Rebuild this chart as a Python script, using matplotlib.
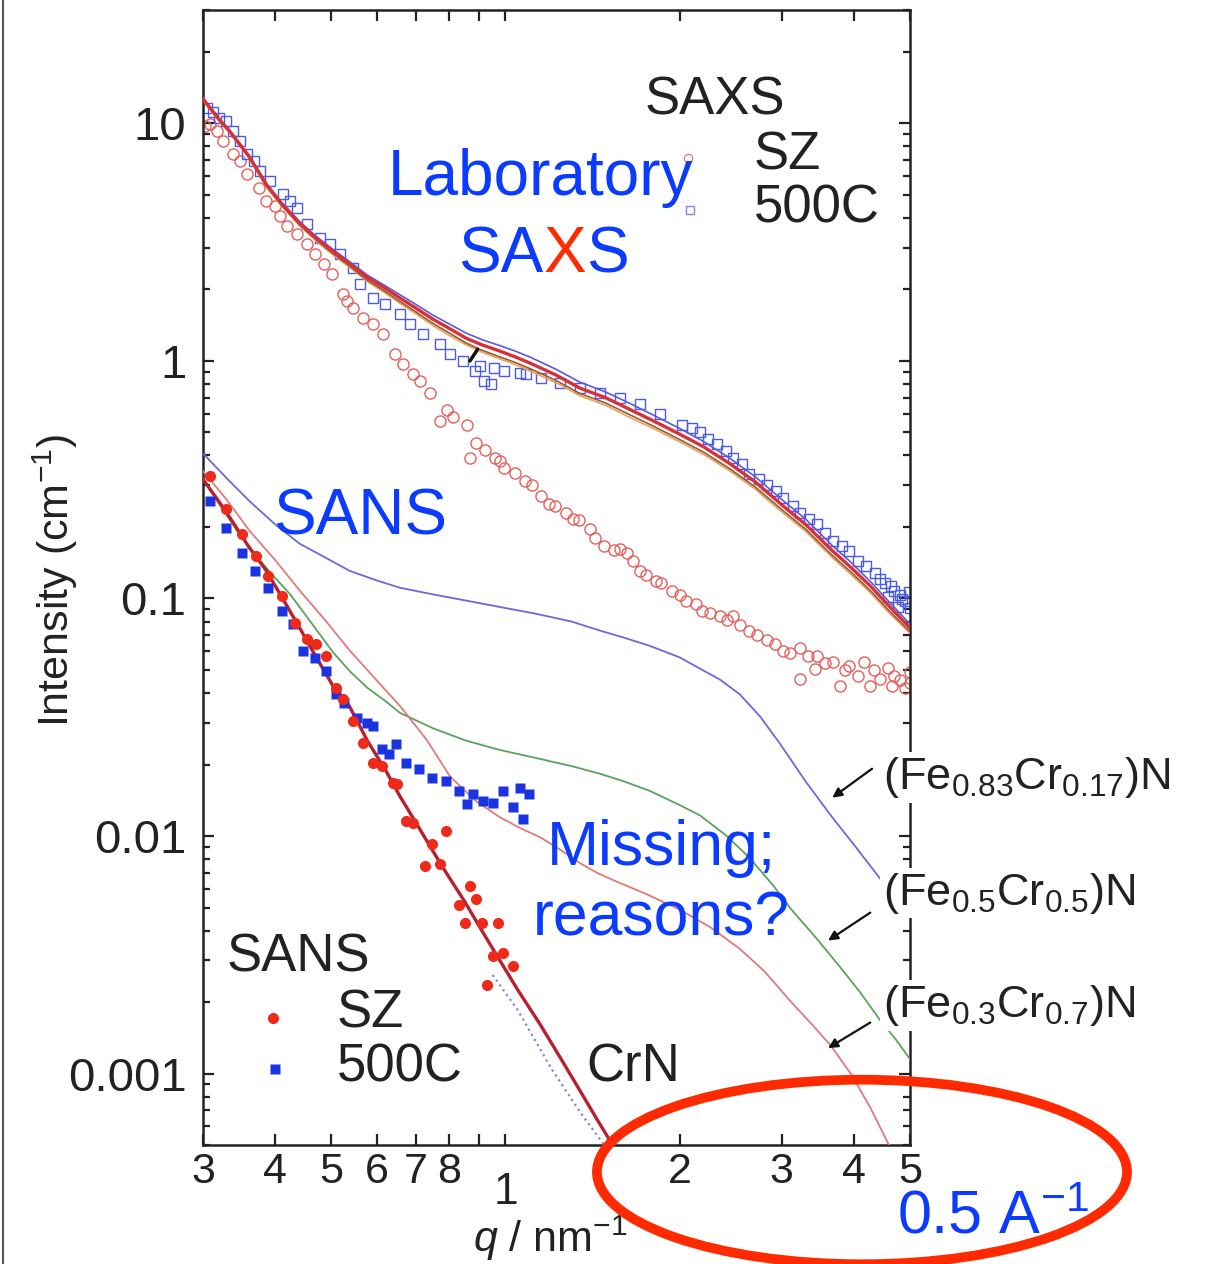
import matplotlib
matplotlib.use('Agg')
import matplotlib.pyplot as plt
import matplotlib.ticker as mtick
import matplotlib.transforms as mtrans
from matplotlib.patches import Ellipse
from matplotlib.lines import Line2D

plt.rcParams['font.family'] = ['Liberation Sans', 'DejaVu Sans']
plt.rcParams['mathtext.fontset'] = 'custom'
plt.rcParams['mathtext.rm'] = 'Liberation Sans'
plt.rcParams['mathtext.it'] = 'Liberation Sans:italic'
plt.rcParams['mathtext.bf'] = 'Liberation Sans:bold'

# --- laboratory SAXS, as-quenched (SZ), open circles
saxs_sz_q = [0.302, 0.308, 0.317, 0.325, 0.338, 0.348, 0.358, 0.375, 0.386, 0.399,
             0.407, 0.419, 0.436, 0.454, 0.468, 0.486, 0.501, 0.524, 0.532, 0.545,
             0.567, 0.590, 0.614, 0.645, 0.665, 0.692, 0.712, 0.741, 0.771, 0.791,
             0.813, 0.858, 0.868, 0.890, 0.923, 0.960, 0.978, 0.995, 1.04, 1.08,
             1.11, 1.15, 1.19, 1.22, 1.27, 1.31, 1.34, 1.40, 1.43, 1.48,
             1.54, 1.58, 1.62, 1.66, 1.71, 1.75, 1.82, 1.86, 1.94, 2.00,
             2.05, 2.13, 2.19, 2.26, 2.35, 2.41, 2.47, 2.54, 2.64, 2.72,
             2.83, 2.92, 3.02, 3.10, 3.23, 3.23, 3.33, 3.42, 3.45, 3.56,
             3.68, 3.79, 3.86, 3.93, 4.07, 4.17, 4.27, 4.33, 4.44, 4.59,
             4.66, 4.70, 4.81, 4.90, 5.00, 5.00]
saxs_sz_I = [9.71, 9.90, 9.25, 8.40, 7.41, 6.92, 6.10, 5.33, 4.70, 4.48,
             4.07, 3.69, 3.41, 3.10, 2.81, 2.55, 2.32, 1.91, 1.78, 1.67,
             1.52, 1.43, 1.30, 1.07, 0.97, 0.88, 0.82, 0.73, 0.56, 0.62,
             0.58, 0.54, 0.39, 0.45, 0.42, 0.39, 0.38, 0.355, 0.336, 0.313,
             0.300, 0.270, 0.250, 0.245, 0.228, 0.216, 0.213, 0.197, 0.180, 0.167,
             0.160, 0.162, 0.155, 0.144, 0.131, 0.125, 0.119, 0.116, 0.108, 0.103,
             0.098, 0.095, 0.089, 0.087, 0.084, 0.081, 0.084, 0.077, 0.073, 0.070,
             0.0666, 0.0645, 0.0604, 0.059, 0.062, 0.046, 0.0573, 0.0507, 0.057, 0.0535,
             0.054, 0.043, 0.0498, 0.052, 0.0474, 0.054, 0.0429, 0.050, 0.046, 0.051,
             0.043, 0.0474, 0.0452, 0.042, 0.049, 0.044]

# --- laboratory SAXS, aged 500C, open squares
saxs_500c_q = [0.305, 0.312, 0.320, 0.329, 0.338, 0.348, 0.358, 0.367, 0.377, 0.392,
               0.412, 0.424, 0.436, 0.454, 0.478, 0.497, 0.517, 0.545, 0.561, 0.590,
               0.620, 0.657, 0.684, 0.721, 0.771, 0.802, 0.844, 0.885, 0.903, 0.919,
               0.945, 0.957, 0.995, 1.058, 1.085, 1.15, 1.24, 1.344, 1.455, 1.576,
               1.707, 1.849, 2.02, 2.10, 2.17, 2.24, 2.32, 2.40, 2.47, 2.56,
               2.64, 2.74, 2.83, 2.93, 3.02, 3.14, 3.23, 3.34, 3.45, 3.57,
               3.68, 3.82, 3.93, 4.07, 4.20, 4.35, 4.44, 4.52, 4.58, 4.63,
               4.70, 4.76, 4.81, 4.85, 4.90, 4.98, 5.00]
saxs_500c_I = [11.6, 11.2, 10.5, 10.2, 9.25, 8.40, 7.41, 6.92, 6.28, 5.70,
               5.03, 4.70, 4.39, 3.76, 3.28, 3.10, 2.81, 2.46, 2.10, 1.84,
               1.74, 1.57, 1.43, 1.30, 1.18, 1.07, 1.00, 0.908, 0.95, 0.824,
               0.80, 0.93, 0.908, 0.89, 0.88, 0.85, 0.81, 0.77, 0.735, 0.70,
               0.66, 0.60, 0.54, 0.522, 0.50, 0.469, 0.445, 0.418, 0.39, 0.368,
               0.335, 0.318, 0.30, 0.284, 0.265, 0.245, 0.229, 0.216, 0.205, 0.189,
               0.174, 0.166, 0.159, 0.144, 0.137, 0.128, 0.121, 0.116, 0.1016, 0.113,
               0.108, 0.092, 0.103, 0.0996, 0.098, 0.106, 0.091]

# --- SAXS model curves
saxs_fit_q = [0.300, 0.320, 0.334, 0.360, 0.386, 0.410, 0.441, 0.470, 0.503, 0.540,
              0.577, 0.620, 0.657, 0.700, 0.749, 0.800, 0.855, 0.910, 0.978, 1.04,
              1.101, 1.22, 1.344, 1.49, 1.636, 1.80, 2.00, 2.20, 2.44, 2.70,
              3.02, 3.30, 3.68, 3.93, 4.27, 4.60, 5.00]
saxs_fit_red = [12.7, 10.4, 9.25, 7.30, 5.54, 4.60, 3.80, 3.30, 2.90, 2.55,
                2.25, 2.02, 1.84, 1.67, 1.50, 1.37, 1.247, 1.17, 1.10, 1.04,
                0.981, 0.875, 0.769, 0.700, 0.627, 0.560, 0.492, 0.435, 0.370, 0.310,
                0.245, 0.205, 0.158, 0.137, 0.113, 0.093, 0.0752]
saxs_fit_blue = [12.8, 10.5, 9.30, 7.36, 5.60, 4.66, 3.86, 3.36, 2.95, 2.60,
                 2.30, 2.07, 1.90, 1.73, 1.56, 1.43, 1.31, 1.23, 1.16, 1.10,
                 1.04, 0.925, 0.815, 0.740, 0.665, 0.592, 0.520, 0.458, 0.390, 0.326,
                 0.258, 0.216, 0.166, 0.144, 0.118, 0.097, 0.078]
saxs_fit_brown = [12.6, 10.3, 9.15, 7.22, 5.45, 4.54, 3.74, 3.25, 2.84, 2.49,
                  2.19, 1.96, 1.78, 1.61, 1.44, 1.31, 1.19, 1.11, 1.04, 0.985,
                  0.930, 0.830, 0.730, 0.665, 0.595, 0.532, 0.467, 0.413, 0.352, 0.295,
                  0.234, 0.196, 0.151, 0.131, 0.108, 0.089, 0.0725]
saxs_fit_orange = [12.5, 10.2, 9.10, 7.18, 5.40, 4.50, 3.70, 3.21, 2.80, 2.46,
                   2.16, 1.93, 1.75, 1.58, 1.41, 1.28, 1.17, 1.09, 1.02, 0.965,
                   0.910, 0.812, 0.715, 0.650, 0.580, 0.520, 0.457, 0.404, 0.345, 0.289,
                   0.229, 0.192, 0.148, 0.128, 0.106, 0.087, 0.0715]

# --- SANS data
sans_sz_q = [0.308, 0.329, 0.350, 0.371, 0.388, 0.411, 0.433, 0.454, 0.471, 0.490,
             0.509, 0.524, 0.545, 0.567, 0.590, 0.611, 0.639, 0.650, 0.672, 0.692,
             0.726, 0.747, 0.770, 0.790, 0.830, 0.850, 0.868, 0.890, 0.910, 0.930,
             0.950, 0.970, 0.990, 1.03]
sans_sz_I = [0.328, 0.238, 0.187, 0.151, 0.1245, 0.1026, 0.0789, 0.0676, 0.0644, 0.0574,
             0.0421, 0.0379, 0.0306, 0.0247, 0.0202, 0.0198, 0.0168, 0.0166, 0.0116, 0.0113,
             0.0075, 0.0093, 0.0076, 0.01055, 0.0051, 0.00432, 0.00618, 0.00545, 0.0043, 0.00235,
             0.00314, 0.0043, 0.00322, 0.00285]

sans_500c_q = [0.308, 0.329, 0.350, 0.369, 0.388, 0.411, 0.429, 0.447, 0.468, 0.490,
               0.509, 0.526, 0.553, 0.576, 0.590, 0.611, 0.630, 0.648, 0.672, 0.708,
               0.745, 0.790, 0.830, 0.858, 0.880, 0.914, 0.951, 0.990, 1.03, 1.06,
               1.07, 1.10]
sans_500c_I = [0.258, 0.198, 0.156, 0.1307, 0.111, 0.0888, 0.0782, 0.0602, 0.0563, 0.0496,
               0.0397, 0.0364, 0.0315, 0.0300, 0.0291, 0.0233, 0.0222, 0.0245, 0.0202, 0.0192,
               0.0176, 0.0171, 0.0155, 0.0137, 0.0151, 0.0141, 0.0138, 0.0155, 0.0132, 0.0160,
               0.0118, 0.0151]

# --- SANS model curves
fe083_q = [0.301, 0.330, 0.361, 0.400, 0.441, 0.490, 0.538, 0.600, 0.657, 0.750,
           0.855, 0.980, 1.12, 1.30, 1.455, 1.60, 1.775, 2.00, 2.17, 2.35,
           2.54, 2.75, 2.98, 3.30, 3.65, 4.00, 4.44, 5.00]
fe083_I = [0.405, 0.320, 0.257, 0.205, 0.170, 0.148, 0.1307, 0.119, 0.111, 0.104,
           0.098, 0.092, 0.0866, 0.0800, 0.0733, 0.0685, 0.0632, 0.0565, 0.0506, 0.0455,
           0.0395, 0.0320, 0.0245, 0.0170, 0.0122, 0.0092, 0.00662, 0.00476]
fe05_q = [0.300, 0.320, 0.345, 0.377, 0.400, 0.424, 0.460, 0.503, 0.540, 0.577,
          0.620, 0.657, 0.750, 0.855, 0.980, 1.12, 1.30, 1.455, 1.60, 1.775,
          2.00, 2.17, 2.40, 2.64, 2.90, 3.12, 3.45, 3.79, 4.10, 4.44,
          4.75, 5.00]
fe05_I = [0.318, 0.250, 0.190, 0.144, 0.122, 0.1045, 0.080, 0.0595, 0.049, 0.0421,
          0.037, 0.0330, 0.0284, 0.0252, 0.0230, 0.0214, 0.0197, 0.0183, 0.0170, 0.0155,
          0.0135, 0.0122, 0.0101, 0.0081, 0.0062, 0.0049, 0.0037, 0.0028, 0.0022, 0.00168,
          0.00137, 0.00115]
fe03_q = [0.300, 0.330, 0.361, 0.400, 0.441, 0.490, 0.538, 0.600, 0.657, 0.730,
          0.802, 0.890, 0.978, 1.06, 1.146, 1.24, 1.344, 1.44, 1.54, 1.75,
          2.00, 2.27, 2.54, 2.80, 3.10, 3.37, 3.65, 3.95, 4.27, 4.60]
fe03_I = [0.344, 0.260, 0.193, 0.145, 0.108, 0.080, 0.0604, 0.045, 0.0353, 0.0255,
          0.0178, 0.0140, 0.0120, 0.0108, 0.0099, 0.0088, 0.0077, 0.0070, 0.0065, 0.0057,
          0.0049, 0.0041, 0.00335, 0.0027, 0.00203, 0.00163, 0.00131, 0.00100, 0.00072, 0.00050]
crn_q = [0.300, 0.320, 0.337, 0.360, 0.386, 0.410, 0.441, 0.470, 0.503, 0.538,
         0.577, 0.620, 0.657, 0.703, 0.750, 0.790, 0.850, 0.910, 0.978, 1.05,
         1.146, 1.24, 1.344, 1.44, 1.54]
crn_I = [0.318, 0.255, 0.212, 0.165, 0.131, 0.102, 0.0751, 0.057, 0.043, 0.035,
         0.0252, 0.0190, 0.0147, 0.0112, 0.0086, 0.0070, 0.0053, 0.0040, 0.00299, 0.00225,
         0.00162, 0.00118, 0.00085, 0.00064, 0.00049]
crn_alt_q = [0.95, 1.05, 1.20, 1.35, 1.50]
crn_alt_I = [0.0026, 0.00185, 0.00105, 0.00068, 0.00048]

x_ticks = [0.3, 0.4, 0.5, 0.6, 0.7, 0.8, 0.9, 1, 2, 3, 4, 5]
x_ticklabels = ['3', '4', '5', '6', '7', '8', '', '', '2', '3', '4', '5']
y_ticks = [1e-3, 1e-2, 1e-1, 1, 10]
y_ticklabels = ['0.001', '0.01', '0.1', '1', '10']

blue_txt = '#0b3bff'
red_txt = '#ff2a00'
ink = '#222222'

fig = plt.figure(figsize=(12.27, 12.64), dpi=100)
ax = fig.add_axes([0.1654, 0.0941, 0.5762, 0.8979])
ax.set_xscale('log')
ax.set_yscale('log')
ax.set_xlim(0.3, 5)
ax.set_ylim(5e-4, 30)

# SAXS
ax.plot(saxs_sz_q, saxs_sz_I, 'o', mfc='none', mec='#e4605c', ms=8, mew=1.0, zorder=2)
ax.plot(saxs_500c_q, saxs_500c_I, 's', mfc='none', mec='#4a5be6', ms=7.5, mew=1.0, zorder=2)
ax.plot(saxs_fit_q, saxs_fit_orange, color='#e8a25a', lw=1.2, zorder=3)
ax.plot(saxs_fit_q, saxs_fit_brown, color='#9a5a30', lw=1.2, zorder=3)
ax.plot(saxs_fit_q, saxs_fit_blue, color='#5a5ad8', lw=1.2, zorder=3)
ax.plot(saxs_fit_q, saxs_fit_red, color='#d8303a', lw=2.4, zorder=3)

# SANS
ax.plot(fe083_q, fe083_I, color='#6a6ad8', lw=1.3, zorder=3)
ax.plot(fe05_q, fe05_I, color='#5aa45a', lw=1.3, zorder=3)
ax.plot(fe03_q, fe03_I, color='#e07a7a', lw=1.3, zorder=3)
ax.plot(crn_alt_q, crn_alt_I, ':', color='#7a8ad8', lw=1.6, zorder=3)
ax.plot(crn_q, crn_I, color='#b82030', lw=2.4, zorder=3)
ax.plot(sans_500c_q, sans_500c_I, 's', color='#1a35e0', mec='none', ms=7.5, zorder=4)
ax.plot(sans_sz_q, sans_sz_I, 'o', color='#ee2a1a', mec='none', ms=8, zorder=4)

# axes and ticks
ax.xaxis.set_major_locator(mtick.FixedLocator(x_ticks))
ax.xaxis.set_major_formatter(mtick.FixedFormatter(x_ticklabels))
ax.xaxis.set_minor_locator(mtick.NullLocator())
ax.yaxis.set_major_locator(mtick.FixedLocator(y_ticks))
ax.yaxis.set_major_formatter(mtick.FixedFormatter(y_ticklabels))
ax.yaxis.set_minor_locator(mtick.LogLocator(base=10, subs=(2, 3, 4, 5, 6, 7, 8, 9), numticks=20))
ax.yaxis.set_minor_formatter(mtick.NullFormatter())
ax.tick_params(which='both', direction='in', top=True, right=True, width=1.6, colors=ink)
ax.tick_params(which='major', length=8)
ax.tick_params(which='minor', length=5)
ax.tick_params(axis='y', which='major', labelsize=34, pad=12)
ax.tick_params(axis='x', which='major', labelsize=31, pad=5)
for sp in ax.spines.values():
    sp.set_linewidth(1.8)
    sp.set_color(ink)

trans = mtrans.blended_transform_factory(ax.transData, ax.transAxes)
ax.text(1.0, -0.042, '1', transform=trans, ha='center', va='center', fontsize=32, color=ink)
ax.text(0.382, -0.0825, r'$q$ / nm$^{-1}$', transform=ax.transAxes, ha='left', va='center',
        fontsize=31, color=ink)
fig.text(0.045, 0.541, r'Intensity (cm$^{-1}$)', rotation=90, ha='center', va='center',
         fontsize=31, color=ink)

# legends
ax.text(0.724, 0.920, 'SAXS', transform=ax.transAxes, ha='center', va='center', fontsize=38, color=ink)
ax.plot([0.686], [0.870], 'o', transform=ax.transAxes, mfc='none', mec='#e88080', ms=6, mew=1.0, clip_on=False)
ax.plot([0.689], [0.824], 's', transform=ax.transAxes, mfc='none', mec='#7f88e0', ms=6, mew=1.0, clip_on=False)
ax.text(0.779, 0.872, 'SZ', transform=ax.transAxes, ha='left', va='center', fontsize=38, color=ink)
ax.text(0.779, 0.825, '500C', transform=ax.transAxes, ha='left', va='center', fontsize=38, color=ink)

ax.text(0.033, 0.165, 'SANS', transform=ax.transAxes, ha='left', va='center', fontsize=38, color=ink)
ax.plot([0.099], [0.112], 'o', transform=ax.transAxes, color='#ee2a1a', mec='none', ms=8)
ax.plot([0.102], [0.067], 's', transform=ax.transAxes, color='#1a35e0', mec='none', ms=7.5)
ax.text(0.189, 0.116, 'SZ', transform=ax.transAxes, ha='left', va='center', fontsize=38, color=ink)
ax.text(0.189, 0.068, '500C', transform=ax.transAxes, ha='left', va='center', fontsize=38, color=ink)
ax.text(0.543, 0.068, 'CrN', transform=ax.transAxes, ha='left', va='center', fontsize=38, color=ink)

# composition labels with arrows to the curves
comp_labels = [r'(Fe$_{0.83}$Cr$_{0.17}$)N', r'(Fe$_{0.5}$Cr$_{0.5}$)N', r'(Fe$_{0.3}$Cr$_{0.7}$)N']
label_y = [0.324, 0.222, 0.123]
arrow_tail = [(4.30, 0.0192), (4.27, 0.00476), (4.27, 0.00164)]
arrow_head = [(3.67, 0.0145), (3.61, 0.00363), (3.61, 0.00128)]
for txt, ly, tail, head in zip(comp_labels, label_y, arrow_tail, arrow_head):
    ax.text(0.962, ly, txt, transform=ax.transAxes, ha='left', va='center', fontsize=32.5,
            color=ink, clip_on=False, zorder=6,
            bbox=dict(facecolor='white', edgecolor='none', pad=2))
    ax.annotate('', xy=head, xytext=tail,
                arrowprops=dict(arrowstyle='-|>', color='#111111', lw=1.6, mutation_scale=14,
                                shrinkA=0, shrinkB=0))

ax.annotate('', xy=(0.868, 1.0), xytext=(0.895, 1.12),
            arrowprops=dict(arrowstyle='-', color='#111111', lw=2.5, shrinkA=0, shrinkB=0))

# blue remarks
ax.text(0.477, 0.852, 'Laboratory', transform=ax.transAxes, ha='center', va='center', fontsize=46,
        color=blue_txt, zorder=5)
ax.text(0.482, 0.784, 'SA', transform=ax.transAxes, ha='right', va='center', fontsize=46, color=blue_txt, zorder=5)
ax.text(0.512, 0.784, 'X', transform=ax.transAxes, ha='center', va='center', fontsize=46, color=red_txt, zorder=5)
ax.text(0.542, 0.784, 'S', transform=ax.transAxes, ha='left', va='center', fontsize=46, color=blue_txt, zorder=5)
ax.text(0.222, 0.553, 'SANS', transform=ax.transAxes, ha='center', va='center', fontsize=46, color=blue_txt, zorder=5)
ax.text(0.649, 0.230, 'Missing;\nreasons?', transform=ax.transAxes, ha='center', va='center',
        fontsize=45, color=blue_txt, linespacing=1.25, zorder=5)
fig.text(0.731, 0.036, r'0.5 A$^{-1}$', ha='left', va='center', fontsize=44, color=blue_txt, zorder=11)

# highlighted q range
fig.add_artist(Ellipse((0.7025, 0.0728), 0.432, 0.146, transform=fig.transFigure,
                       fill=False, edgecolor=red_txt, lw=7, zorder=10))
fig.add_artist(Line2D([0.0025, 0.0025], [0, 1], transform=fig.transFigure, color='#555555', lw=1.5))

fig.savefig('out.png', dpi=100)
